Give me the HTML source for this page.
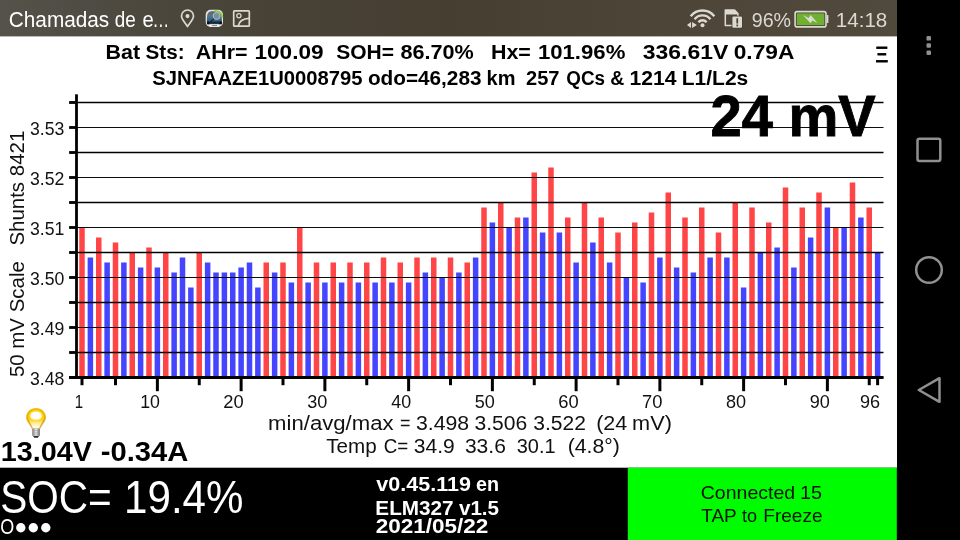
<!DOCTYPE html>
<html lang="pt"><head><meta charset="utf-8"><title>LeafSpy</title>
<style>
html,body{margin:0;padding:0;background:#fff;}
body{width:960px;height:540px;overflow:hidden;position:relative;font-family:"Liberation Sans",sans-serif;}
svg{position:absolute;left:0;top:0;display:block}
text{font-family:"Liberation Sans",sans-serif;}
.b{font-weight:bold}
</style></head><body>
<svg width="960" height="540" viewBox="0 0 960 540">
<defs>
<linearGradient id="sb" x1="0" y1="0" x2="1" y2="0">
<stop offset="0" stop-color="#54524a"/><stop offset="0.155" stop-color="#4c483e"/><stop offset="0.3" stop-color="#484236"/><stop offset="0.5" stop-color="#463e31"/><stop offset="0.74" stop-color="#4d4538"/><stop offset="1" stop-color="#504a3c"/>
</linearGradient>
<linearGradient id="car" x1="0" y1="0" x2="0" y2="1">
<stop offset="0" stop-color="#56666c"/><stop offset="0.3" stop-color="#5d737d"/><stop offset="0.5" stop-color="#3f7295"/><stop offset="0.8" stop-color="#2c5878"/><stop offset="1" stop-color="#182b3a"/>
</linearGradient>
<linearGradient id="bulbo" x1="0" y1="0" x2="0" y2="1">
<stop offset="0" stop-color="#f2c000"/><stop offset="0.55" stop-color="#e0ae00"/><stop offset="1" stop-color="#d9b24a"/>
</linearGradient>
<linearGradient id="bulbi" x1="0" y1="0" x2="0" y2="1">
<stop offset="0" stop-color="#ffd21e"/><stop offset="0.5" stop-color="#ffcf0a"/><stop offset="0.62" stop-color="#ffdc4a"/><stop offset="0.75" stop-color="#ffefa6"/><stop offset="1" stop-color="#fffdf2"/>
</linearGradient>
<linearGradient id="base" x1="0" y1="0" x2="1" y2="0">
<stop offset="0" stop-color="#777"/><stop offset="0.5" stop-color="#eee"/><stop offset="1" stop-color="#666"/>
</linearGradient>
</defs>
<rect x="0" y="0" width="960" height="540" fill="#ffffff"/>
<!-- status bar -->
<rect x="0" y="0" width="897" height="36.4" fill="url(#sb)"/>
<!-- nav bar -->
<rect x="897" y="0" width="63" height="540" fill="#000"/>

<text transform="translate(8.81 26.90) scale(0.9440 1)" font-size="22" fill="#fff">Chamadas</text>
<text transform="translate(114.84 26.90) scale(0.8578 1)" font-size="22" fill="#fff">de</text>
<text transform="translate(142.48 26.90) scale(0.9171 1)" font-size="22" fill="#fff">e</text>
<text transform="translate(152.41 26.90) scale(0.7625 1)" font-size="22" fill="#fff">…</text>
<text transform="translate(751.72 26.50) scale(0.9830 1)" font-size="20" fill="#dcd9d2">96%</text>
<text transform="translate(835.75 26.50) scale(1.0304 1)" font-size="20" fill="#dcd9d2">14:18</text>
<g fill="none" stroke="#dcd9d2" stroke-width="1.7" stroke-linejoin="round" stroke-linecap="round">
<path d="M187.5 26.6 C184 21.5 181.5 19 181.5 16 A6 6 0 0 1 193.5 16 C193.5 19 191 21.5 187.5 26.6 Z"/>
<circle cx="187.5" cy="16.1" r="1.2" fill="#dcd9d2"/>
<rect x="233.7" y="10.8" width="15.6" height="15.4" rx="0.8"/>
<circle cx="238.9" cy="15.7" r="2.1" stroke-width="1.3"/>
<path d="M238.2 26 Q239.6 18.8 249.2 18.4" stroke-width="1.6"/>
</g>
<g>
<rect x="205.7" y="9.7" width="17.3" height="17.3" rx="5" fill="#e4e4e0"/>
<path d="M207.2 15 Q208.2 11.6 211.5 11.3 H217.5 Q220.6 11.6 221.6 15 L222 22 Q222 24.2 220 24.2 H208.8 Q206.8 24.2 206.8 22 Z" fill="url(#car)"/>
<rect x="207" y="21.6" width="2.4" height="2.7" rx="0.6" fill="#0b0b0b"/><rect x="219.4" y="21.6" width="2.4" height="2.7" rx="0.6" fill="#0b0b0b"/>
<path d="M209.5 22.2 H219.3" stroke="#10202c" stroke-width="1.1"/>
<path d="M215.2 10.8 Q221.2 11 222.4 16.6" fill="none" stroke="#8fd03c" stroke-width="1.7" stroke-linecap="round"/>
<circle cx="216.6" cy="15.9" r="3.5" fill="#8b9ba1" fill-opacity="0.75" stroke="#c5ced1" stroke-width="0.8"/>
<path d="M214 18.7 L208.8 23.4" stroke="#1c2226" stroke-width="1.1"/>
<rect x="209.3" y="24.5" width="10.2" height="2.2" rx="1" fill="#f2f2f0"/>
<path d="M212 25.6 H217" stroke="#555" stroke-width="0.7"/>
</g>
<g fill="none" stroke="#dcd9d2" stroke-width="2.4" stroke-linecap="butt">
<path d="M698.40 22.30 A5.20 5.20 0 0 1 706.60 22.30"/>
<path d="M694.54 19.28 A10.10 10.10 0 0 1 710.46 19.28"/>
<path d="M690.68 16.27 A15.00 15.00 0 0 1 714.32 16.27"/>
</g>
<circle cx="702.5" cy="25.3" r="2" fill="#dcd9d2"/>
<path d="M691 22 L691 28 L687 25 Z M692.1 22 L692.1 28 L696.9 25 Z" fill="#dcd9d2"/>
<path d="M725.3 10 H734.5 L737.9 13.6 V25.6 H725.3 Z" fill="none" stroke="#dcd9d2" stroke-width="1.5" stroke-linejoin="round"/>
<path d="M725.3 10 H734.5 L737.9 13.6 V14.6 H725.3 Z" fill="#dcd9d2"/>
<rect x="731.6" y="15.8" width="11" height="12.6" rx="1" fill="#463e30"/>
<rect x="732.4" y="16.6" width="9.6" height="11.2" rx="1" fill="#dcd9d2"/>
<rect x="736.4" y="18.3" width="1.7" height="5.2" fill="#463e30"/><rect x="736.4" y="24.6" width="1.7" height="1.7" fill="#463e30"/>
<rect x="795.1" y="11.6" width="30.9" height="15.3" rx="2" fill="none" stroke="#dcd9d2" stroke-width="1.6"/>
<rect x="826.6" y="14.9" width="1.8" height="8.2" rx="0.6" fill="#dcd9d2"/>
<rect x="796.8" y="13.4" width="27.5" height="11.7" fill="#70b030"/>
<path d="M803 15.1 L808.5 18 L810.7 14.9 L817.4 23.1 L812.4 20.4 L810.5 23.3 Z" fill="#dcd9d2"/>
<rect x="926.5" y="36.1" width="4.5" height="4.5" rx="1.2" fill="#909090"/>
<rect x="926.5" y="43.2" width="4.5" height="4.5" rx="1.2" fill="#909090"/>
<rect x="926.5" y="50.4" width="4.5" height="4.5" rx="1.2" fill="#909090"/>
<rect x="917.5" y="138.8" width="22.8" height="22.2" rx="2" fill="none" stroke="#909090" stroke-width="2.5"/>
<circle cx="929" cy="270" r="12.8" fill="none" stroke="#909090" stroke-width="2.5"/>
<path d="M918.8 390 L939.5 378.2 V401.8 Z" fill="none" stroke="#909090" stroke-width="2.5" stroke-linejoin="round"/>
<text class="b" transform="translate(105.47 59.40) scale(1.0219 1)" font-size="21" fill="#000">Bat</text>
<text class="b" transform="translate(145.56 59.40) scale(0.9865 1)" font-size="21" fill="#000">Sts:</text>
<text class="b" transform="translate(195.79 59.40) scale(1.0182 1)" font-size="21" fill="#000">AHr=</text>
<text class="b" transform="translate(254.45 59.40) scale(1.0763 1)" font-size="21" fill="#000">100.09</text>
<text class="b" transform="translate(336.25 59.40) scale(1.0009 1)" font-size="21" fill="#000">SOH=</text>
<text class="b" transform="translate(400.53 59.40) scale(1.0286 1)" font-size="21" fill="#000">86.70%</text>
<text class="b" transform="translate(490.97 59.40) scale(1.0204 1)" font-size="21" fill="#000">Hx=</text>
<text class="b" transform="translate(537.88 59.40) scale(1.0556 1)" font-size="21" fill="#000">101.96%</text>
<text class="b" transform="translate(642.75 59.40) scale(1.0929 1)" font-size="21" fill="#000">336.61V</text>
<text class="b" transform="translate(733.69 59.40) scale(1.0831 1)" font-size="21" fill="#000">0.79A</text>
<text class="b" transform="translate(152.28 85.20) scale(0.9631 1)" font-size="21" fill="#000">SJNFAAZE1U0008795</text>
<text class="b" transform="translate(367.96 85.20) scale(0.9877 1)" font-size="21" fill="#000">odo=46,283</text>
<text class="b" transform="translate(486.57 85.20) scale(0.9527 1)" font-size="21" fill="#000">km</text>
<text class="b" transform="translate(525.98 85.20) scale(0.9552 1)" font-size="21" fill="#000">257</text>
<text class="b" transform="translate(566.33 85.20) scale(0.8964 1)" font-size="21" fill="#000">QCs</text>
<text class="b" transform="translate(610.27 85.20) scale(0.9259 1)" font-size="21" fill="#000">&amp;</text>
<text class="b" transform="translate(629.54 85.20) scale(1.0088 1)" font-size="21" fill="#000">1214</text>
<text class="b" transform="translate(681.80 85.20) scale(0.9992 1)" font-size="21" fill="#000">L1/L2s</text>
<text transform="translate(875.54 62.30) scale(0.8627 1)" font-size="22.7" fill="#000" stroke="#000" stroke-width="0.8">Ξ</text>
<g>
<rect x="79.250" y="227.5" width="5.5" height="150.0" fill="#ff4545"/>
<rect x="87.625" y="257.5" width="5.5" height="120.0" fill="#4545ff"/>
<rect x="96.000" y="237.5" width="5.5" height="140.0" fill="#ff4545"/>
<rect x="104.375" y="262.5" width="5.5" height="115.0" fill="#4545ff"/>
<rect x="112.750" y="242.5" width="5.5" height="135.0" fill="#ff4545"/>
<rect x="121.125" y="262.5" width="5.5" height="115.0" fill="#4545ff"/>
<rect x="129.500" y="252.5" width="5.5" height="125.0" fill="#ff4545"/>
<rect x="137.875" y="267.5" width="5.5" height="110.0" fill="#4545ff"/>
<rect x="146.250" y="247.5" width="5.5" height="130.0" fill="#ff4545"/>
<rect x="154.625" y="267.5" width="5.5" height="110.0" fill="#4545ff"/>
<rect x="163.000" y="252.5" width="5.5" height="125.0" fill="#ff4545"/>
<rect x="171.375" y="272.5" width="5.5" height="105.0" fill="#4545ff"/>
<rect x="179.750" y="257.5" width="5.5" height="120.0" fill="#4545ff"/>
<rect x="188.125" y="287.5" width="5.5" height="90.0" fill="#4545ff"/>
<rect x="196.500" y="252.5" width="5.5" height="125.0" fill="#ff4545"/>
<rect x="204.875" y="262.5" width="5.5" height="115.0" fill="#4545ff"/>
<rect x="213.250" y="272.5" width="5.5" height="105.0" fill="#4545ff"/>
<rect x="221.625" y="272.5" width="5.5" height="105.0" fill="#4545ff"/>
<rect x="230.000" y="272.5" width="5.5" height="105.0" fill="#4545ff"/>
<rect x="238.375" y="267.5" width="5.5" height="110.0" fill="#4545ff"/>
<rect x="246.750" y="262.5" width="5.5" height="115.0" fill="#4545ff"/>
<rect x="255.125" y="287.5" width="5.5" height="90.0" fill="#4545ff"/>
<rect x="263.500" y="262.5" width="5.5" height="115.0" fill="#ff4545"/>
<rect x="271.875" y="272.5" width="5.5" height="105.0" fill="#4545ff"/>
<rect x="280.250" y="262.5" width="5.5" height="115.0" fill="#ff4545"/>
<rect x="288.625" y="282.5" width="5.5" height="95.0" fill="#4545ff"/>
<rect x="297.000" y="227.5" width="5.5" height="150.0" fill="#ff4545"/>
<rect x="305.375" y="282.5" width="5.5" height="95.0" fill="#4545ff"/>
<rect x="313.750" y="262.5" width="5.5" height="115.0" fill="#ff4545"/>
<rect x="322.125" y="282.5" width="5.5" height="95.0" fill="#4545ff"/>
<rect x="330.500" y="262.5" width="5.5" height="115.0" fill="#ff4545"/>
<rect x="338.875" y="282.5" width="5.5" height="95.0" fill="#4545ff"/>
<rect x="347.250" y="262.5" width="5.5" height="115.0" fill="#ff4545"/>
<rect x="355.625" y="282.5" width="5.5" height="95.0" fill="#4545ff"/>
<rect x="364.000" y="262.5" width="5.5" height="115.0" fill="#ff4545"/>
<rect x="372.375" y="282.5" width="5.5" height="95.0" fill="#4545ff"/>
<rect x="380.750" y="257.5" width="5.5" height="120.0" fill="#ff4545"/>
<rect x="389.125" y="282.5" width="5.5" height="95.0" fill="#4545ff"/>
<rect x="397.500" y="262.5" width="5.5" height="115.0" fill="#ff4545"/>
<rect x="405.875" y="282.5" width="5.5" height="95.0" fill="#4545ff"/>
<rect x="414.250" y="257.5" width="5.5" height="120.0" fill="#ff4545"/>
<rect x="422.625" y="272.5" width="5.5" height="105.0" fill="#4545ff"/>
<rect x="431.000" y="257.5" width="5.5" height="120.0" fill="#ff4545"/>
<rect x="439.375" y="277.5" width="5.5" height="100.0" fill="#4545ff"/>
<rect x="447.750" y="257.5" width="5.5" height="120.0" fill="#ff4545"/>
<rect x="456.125" y="272.5" width="5.5" height="105.0" fill="#4545ff"/>
<rect x="464.500" y="262.5" width="5.5" height="115.0" fill="#ff4545"/>
<rect x="472.875" y="257.5" width="5.5" height="120.0" fill="#4545ff"/>
<rect x="481.250" y="207.5" width="5.5" height="170.0" fill="#ff4545"/>
<rect x="489.625" y="222.5" width="5.5" height="155.0" fill="#4545ff"/>
<rect x="498.000" y="202.5" width="5.5" height="175.0" fill="#ff4545"/>
<rect x="506.375" y="227.5" width="5.5" height="150.0" fill="#4545ff"/>
<rect x="514.750" y="217.5" width="5.5" height="160.0" fill="#ff4545"/>
<rect x="523.125" y="217.5" width="5.5" height="160.0" fill="#4545ff"/>
<rect x="531.500" y="172.5" width="5.5" height="205.0" fill="#ff4545"/>
<rect x="539.875" y="232.5" width="5.5" height="145.0" fill="#4545ff"/>
<rect x="548.250" y="167.5" width="5.5" height="210.0" fill="#ff4545"/>
<rect x="556.625" y="232.5" width="5.5" height="145.0" fill="#4545ff"/>
<rect x="565.000" y="217.5" width="5.5" height="160.0" fill="#ff4545"/>
<rect x="573.375" y="262.5" width="5.5" height="115.0" fill="#4545ff"/>
<rect x="581.750" y="202.5" width="5.5" height="175.0" fill="#ff4545"/>
<rect x="590.125" y="242.5" width="5.5" height="135.0" fill="#4545ff"/>
<rect x="598.500" y="217.5" width="5.5" height="160.0" fill="#ff4545"/>
<rect x="606.875" y="262.5" width="5.5" height="115.0" fill="#4545ff"/>
<rect x="615.250" y="232.5" width="5.5" height="145.0" fill="#ff4545"/>
<rect x="623.625" y="277.5" width="5.5" height="100.0" fill="#4545ff"/>
<rect x="632.000" y="222.5" width="5.5" height="155.0" fill="#ff4545"/>
<rect x="640.375" y="282.5" width="5.5" height="95.0" fill="#4545ff"/>
<rect x="648.750" y="212.5" width="5.5" height="165.0" fill="#ff4545"/>
<rect x="657.125" y="257.5" width="5.5" height="120.0" fill="#4545ff"/>
<rect x="665.500" y="192.5" width="5.5" height="185.0" fill="#ff4545"/>
<rect x="673.875" y="267.5" width="5.5" height="110.0" fill="#4545ff"/>
<rect x="682.250" y="217.5" width="5.5" height="160.0" fill="#ff4545"/>
<rect x="690.625" y="272.5" width="5.5" height="105.0" fill="#4545ff"/>
<rect x="699.000" y="207.5" width="5.5" height="170.0" fill="#ff4545"/>
<rect x="707.375" y="257.5" width="5.5" height="120.0" fill="#4545ff"/>
<rect x="715.750" y="232.5" width="5.5" height="145.0" fill="#ff4545"/>
<rect x="724.125" y="257.5" width="5.5" height="120.0" fill="#4545ff"/>
<rect x="732.500" y="202.5" width="5.5" height="175.0" fill="#ff4545"/>
<rect x="740.875" y="287.5" width="5.5" height="90.0" fill="#4545ff"/>
<rect x="749.250" y="207.5" width="5.5" height="170.0" fill="#ff4545"/>
<rect x="757.625" y="252.5" width="5.5" height="125.0" fill="#4545ff"/>
<rect x="766.000" y="222.5" width="5.5" height="155.0" fill="#ff4545"/>
<rect x="774.375" y="247.5" width="5.5" height="130.0" fill="#4545ff"/>
<rect x="782.750" y="187.5" width="5.5" height="190.0" fill="#ff4545"/>
<rect x="791.125" y="267.5" width="5.5" height="110.0" fill="#4545ff"/>
<rect x="799.500" y="207.5" width="5.5" height="170.0" fill="#ff4545"/>
<rect x="807.875" y="237.5" width="5.5" height="140.0" fill="#4545ff"/>
<rect x="816.250" y="192.5" width="5.5" height="185.0" fill="#ff4545"/>
<rect x="824.625" y="207.5" width="5.5" height="170.0" fill="#4545ff"/>
<rect x="833.000" y="227.5" width="5.5" height="150.0" fill="#ff4545"/>
<rect x="841.375" y="227.5" width="5.5" height="150.0" fill="#4545ff"/>
<rect x="849.750" y="182.5" width="5.5" height="195.0" fill="#ff4545"/>
<rect x="858.125" y="217.5" width="5.5" height="160.0" fill="#4545ff"/>
<rect x="866.500" y="207.5" width="5.5" height="170.0" fill="#ff4545"/>
<rect x="874.875" y="252.5" width="5.5" height="125.0" fill="#4545ff"/>
</g>
<g stroke="#000">
<line x1="77" y1="102.5" x2="883.5" y2="102.5" stroke-width="1.5"/>
<line x1="77" y1="127.5" x2="883.5" y2="127.5" stroke-width="0.95"/>
<line x1="77" y1="152.5" x2="883.5" y2="152.5" stroke-width="1.5"/>
<line x1="77" y1="177.5" x2="883.5" y2="177.5" stroke-width="0.95"/>
<line x1="77" y1="202.5" x2="883.5" y2="202.5" stroke-width="1.5"/>
<line x1="77" y1="227.5" x2="883.5" y2="227.5" stroke-width="0.95"/>
<line x1="77" y1="252.5" x2="883.5" y2="252.5" stroke-width="1.5"/>
<line x1="77" y1="277.5" x2="883.5" y2="277.5" stroke-width="0.95"/>
<line x1="77" y1="302.5" x2="883.5" y2="302.5" stroke-width="1.5"/>
<line x1="77" y1="327.5" x2="883.5" y2="327.5" stroke-width="0.95"/>
<line x1="77" y1="352.5" x2="883.5" y2="352.5" stroke-width="1.5"/>
<line x1="77" y1="377.5" x2="883.5" y2="377.5" stroke-width="0.95"/>
</g>
<g stroke="#000" stroke-width="2.8">
<line x1="69.1" y1="102.5" x2="77" y2="102.5"/>
<line x1="69.1" y1="127.5" x2="77" y2="127.5"/>
<line x1="69.1" y1="152.5" x2="77" y2="152.5"/>
<line x1="69.1" y1="177.5" x2="77" y2="177.5"/>
<line x1="69.1" y1="202.5" x2="77" y2="202.5"/>
<line x1="69.1" y1="227.5" x2="77" y2="227.5"/>
<line x1="69.1" y1="252.5" x2="77" y2="252.5"/>
<line x1="69.1" y1="277.5" x2="77" y2="277.5"/>
<line x1="69.1" y1="302.5" x2="77" y2="302.5"/>
<line x1="69.1" y1="327.5" x2="77" y2="327.5"/>
<line x1="69.1" y1="352.5" x2="77" y2="352.5"/>
<line x1="69.1" y1="377.5" x2="77" y2="377.5"/>
</g>
<line x1="69.1" y1="377.5" x2="883.5" y2="377.5" stroke="#000" stroke-width="2.8"/>
<rect x="75.1" y="94.3" width="2.8" height="284.5" fill="#000"/>
<g stroke="#000" stroke-width="3">
<line x1="82.00" y1="377.5" x2="82.00" y2="385.2"/>
<line x1="115.50" y1="377.5" x2="115.50" y2="385.2"/>
<line x1="157.38" y1="377.5" x2="157.38" y2="391.2"/>
<line x1="199.25" y1="377.5" x2="199.25" y2="385.2"/>
<line x1="241.12" y1="377.5" x2="241.12" y2="391.2"/>
<line x1="283.00" y1="377.5" x2="283.00" y2="385.2"/>
<line x1="324.88" y1="377.5" x2="324.88" y2="391.2"/>
<line x1="366.75" y1="377.5" x2="366.75" y2="385.2"/>
<line x1="408.62" y1="377.5" x2="408.62" y2="391.2"/>
<line x1="450.50" y1="377.5" x2="450.50" y2="385.2"/>
<line x1="492.38" y1="377.5" x2="492.38" y2="391.2"/>
<line x1="534.25" y1="377.5" x2="534.25" y2="385.2"/>
<line x1="576.12" y1="377.5" x2="576.12" y2="391.2"/>
<line x1="618.00" y1="377.5" x2="618.00" y2="385.2"/>
<line x1="659.88" y1="377.5" x2="659.88" y2="391.2"/>
<line x1="701.75" y1="377.5" x2="701.75" y2="385.2"/>
<line x1="743.62" y1="377.5" x2="743.62" y2="391.2"/>
<line x1="785.50" y1="377.5" x2="785.50" y2="385.2"/>
<line x1="827.38" y1="377.5" x2="827.38" y2="391.2"/>
<line x1="869.25" y1="377.5" x2="869.25" y2="385.2"/>
<line x1="877.62" y1="377.5" x2="877.62" y2="385.2"/>
</g>
<text transform="translate(74.63 407.60) scale(0.8581 1)" font-size="17.5" fill="#111">1</text>
<text transform="translate(140.16 407.60) scale(1.0143 1)" font-size="17.5" fill="#111">10</text>
<text transform="translate(223.28 407.60) scale(1.0479 1)" font-size="17.5" fill="#111">20</text>
<text transform="translate(307.30 407.60) scale(1.0333 1)" font-size="17.5" fill="#111">30</text>
<text transform="translate(391.32 407.60) scale(1.0192 1)" font-size="17.5" fill="#111">40</text>
<text transform="translate(474.80 407.60) scale(1.0333 1)" font-size="17.5" fill="#111">50</text>
<text transform="translate(558.28 407.60) scale(1.0479 1)" font-size="17.5" fill="#111">60</text>
<text transform="translate(642.03 407.60) scale(1.0479 1)" font-size="17.5" fill="#111">70</text>
<text transform="translate(726.05 407.60) scale(1.0333 1)" font-size="17.5" fill="#111">80</text>
<text transform="translate(809.80 407.60) scale(1.0333 1)" font-size="17.5" fill="#111">90</text>
<text transform="translate(860.05 407.60) scale(1.0333 1)" font-size="17.5" fill="#111">96</text>
<text transform="translate(29.94 134.60) scale(1.0092 1)" font-size="17.5" fill="#111">3.53</text>
<text transform="translate(29.94 184.60) scale(1.0092 1)" font-size="17.5" fill="#111">3.52</text>
<text transform="translate(29.94 234.60) scale(1.0092 1)" font-size="17.5" fill="#111">3.51</text>
<text transform="translate(29.94 284.60) scale(1.0092 1)" font-size="17.5" fill="#111">3.50</text>
<text transform="translate(29.94 334.60) scale(1.0092 1)" font-size="17.5" fill="#111">3.49</text>
<text transform="translate(29.94 384.60) scale(1.0092 1)" font-size="17.5" fill="#111">3.48</text>
<text transform="translate(23.50 377.11) rotate(-90) scale(1.0080 1)" font-size="20.3" fill="#111">50 mV Scale</text>
<text transform="translate(23.50 245.61) rotate(-90) scale(1.0080 1)" font-size="20.3" fill="#111">Shunts 8421</text>
<text class="b" transform="translate(710.47 135.60) scale(0.9633 1)" font-size="58.2" fill="#000" stroke="#000" stroke-width="0.9">24 mV</text>
<text transform="translate(268.09 430.30) scale(1.0748 1)" font-size="20.6" fill="#111">min/avg/max</text>
<text transform="translate(399.93 430.30) scale(0.8700 1)" font-size="20.6" fill="#111">=</text>
<text transform="translate(415.93 430.30) scale(1.0312 1)" font-size="20.6" fill="#111">3.498</text>
<text transform="translate(474.53 430.30) scale(1.0231 1)" font-size="20.6" fill="#111">3.506</text>
<text transform="translate(533.23 430.30) scale(1.0211 1)" font-size="20.6" fill="#111">3.522</text>
<text transform="translate(596.19 430.30) scale(1.0464 1)" font-size="20.6" fill="#111">(24</text>
<text transform="translate(632.12 430.30) scale(1.0543 1)" font-size="20.6" fill="#111">mV)</text>
<text transform="translate(326.20 452.80) scale(1.0020 1)" font-size="20.6" fill="#111">Temp</text>
<text transform="translate(383.79 452.80) scale(0.9120 1)" font-size="20.6" fill="#111">C=</text>
<text transform="translate(413.84 452.80) scale(1.0196 1)" font-size="20.6" fill="#111">34.9</text>
<text transform="translate(464.93 452.80) scale(1.0208 1)" font-size="20.6" fill="#111">33.6</text>
<text transform="translate(516.77 452.80) scale(0.9673 1)" font-size="20.6" fill="#111">30.1</text>
<text transform="translate(567.71 452.80) scale(1.0312 1)" font-size="20.6" fill="#111">(4.8°)</text>
<text class="b" transform="translate(0.70 460.70) scale(1.0282 1)" font-size="28" fill="#000">13.04V</text>
<text class="b" transform="translate(100.66 460.70) scale(1.0432 1)" font-size="28" fill="#000">-0.34A</text>
<g>
<path d="M36 407.9 C41.7 407.9 45.9 412.1 45.9 417.3 C45.9 421.5 42.5 424 40.3 428.7 H31.8 C29.6 424 26.2 421.5 26.2 417.3 C26.2 412.1 30.3 407.9 36 407.9 Z" fill="url(#bulbo)"/>
<path d="M36 409.9 C40.4 409.9 43.9 413.2 43.9 417.3 C43.9 420.7 41 423.2 39.2 428 H32.8 C31 423.2 28.1 420.7 28.1 417.3 C28.1 413.2 31.6 409.9 36 409.9 Z" fill="url(#bulbi)"/>
<ellipse cx="36" cy="415.7" rx="6.3" ry="4.5" fill="#fff3ae" fill-opacity="0.8"/>
<ellipse cx="36" cy="415.7" rx="5.3" ry="3.6" fill="#fff"/>
<rect x="32.3" y="428.6" width="7.5" height="7.3" fill="url(#base)"/>
<path d="M32.3 430.6 H39.8 M32.3 432.8 H39.8 M32.3 434.9 H39.8" stroke="#888" stroke-width="0.6" stroke-opacity="0.6"/>
<path d="M33 435.9 H39.1 L37.8 437.7 H34.3 Z" fill="#2a2a2a"/>
</g>
<rect x="0" y="467.7" width="897" height="72.3" fill="#000"/>
<rect x="627.8" y="467.7" width="269" height="72.3" fill="#00fc00"/>
<text transform="translate(0.22 513.00) scale(0.8811 1)" font-size="46" fill="#fff">SOC=</text>
<text transform="translate(124.10 513.00) scale(0.9150 1)" font-size="46" fill="#fff">19.4%</text>
<text transform="translate(0.21 534.30) scale(0.7873 1)" font-size="22.8" fill="#fff">O</text>
<circle cx="20.8" cy="527.7" r="4.7" fill="#fff"/>
<circle cx="33.3" cy="527.7" r="4.7" fill="#fff"/>
<circle cx="45.8" cy="527.7" r="4.7" fill="#fff"/>
<text class="b" transform="translate(376.33 490.70) scale(1.0672 1)" font-size="20.2" fill="#fff">v0.45.119</text>
<text class="b" transform="translate(475.97 490.70) scale(0.9767 1)" font-size="20.2" fill="#fff">en</text>
<text class="b" transform="translate(375.32 514.60) scale(1.0256 1)" font-size="20.2" fill="#fff">ELM327</text>
<text class="b" transform="translate(458.94 514.60) scale(1.0208 1)" font-size="20.2" fill="#fff">v1.5</text>
<text class="b" transform="translate(375.76 532.70) scale(1.1146 1)" font-size="20.2" fill="#fff">2021/05/22</text>
<text transform="translate(700.77 498.70) scale(1.0262 1)" font-size="19" fill="#061206">Connected</text>
<text transform="translate(799.94 498.70) scale(1.0400 1)" font-size="19" fill="#061206">15</text>
<text transform="translate(701.30 521.60) scale(0.9971 1)" font-size="19" fill="#061206">TAP</text>
<text transform="translate(742.06 521.60) scale(0.9492 1)" font-size="19" fill="#061206">to</text>
<text transform="translate(763.30 521.60) scale(1.0009 1)" font-size="19" fill="#061206">Freeze</text>
</svg></body></html>
